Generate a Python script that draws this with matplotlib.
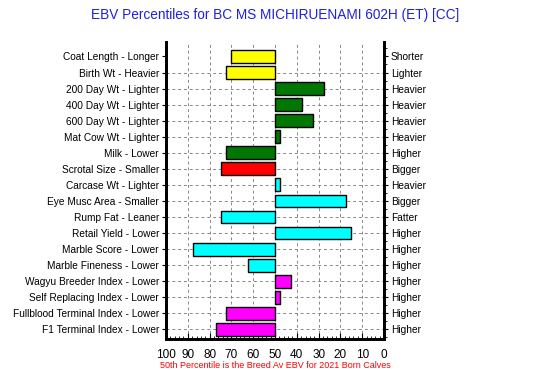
import matplotlib.pyplot as plt
from matplotlib.ticker import MultipleLocator

plt.rcParams['font.family'] = ['Liberation Sans', 'DejaVu Sans']

# traits, top to bottom
traits = ["Coat Length - Longer", "Birth Wt - Heavier", "200 Day Wt - Lighter",
          "400 Day Wt - Lighter", "600 Day Wt - Lighter", "Mat Cow Wt - Lighter",
          "Milk - Lower", "Scrotal Size - Smaller", "Carcase Wt - Lighter",
          "Eye Musc Area - Smaller", "Rump Fat - Leaner", "Retail Yield - Lower",
          "Marble Score - Lower", "Marble Fineness - Lower", "Wagyu Breeder Index - Lower",
          "Self Replacing Index - Lower", "Fullblood Terminal Index - Lower",
          "F1 Terminal Index - Lower"]
right_labels = ["Shorter", "Lighter", "Heavier", "Heavier", "Heavier", "Heavier",
                "Higher", "Bigger", "Heavier", "Bigger", "Fatter", "Higher",
                "Higher", "Higher", "Higher", "Higher", "Higher", "Higher"]
percentiles = [70, 72.5, 27.5, 37.5, 32.5, 47.5, 72.5, 75, 47.5, 17.5, 75, 15,
               87.5, 62.5, 42.5, 47.5, 72.5, 77]
colours = ["#ffff00", "#ffff00", "#007700", "#007700", "#007700", "#007700",
           "#007700", "#ff0000", "#00ffff", "#00ffff", "#00ffff", "#00ffff",
           "#00ffff", "#00ffff", "#ff00ff", "#ff00ff", "#ff00ff", "#ff00ff"]
breed_avg = 50

fig = plt.figure(figsize=(5.5, 3.7), dpi=100)
ax = fig.add_axes([166/550, 1 - 339/370, 218/550, 297/370])

n = len(traits)
rows = list(range(n))

# grid
for x in range(10, 100, 10):
    ax.axvline(x, color="#888888", ls=(0, (3, 3)), lw=0.7, zorder=0)
for r in rows[1:]:
    ax.axhline(r, color="#888888", ls=(0, (3, 3)), lw=0.7, zorder=0)

widths = [p - breed_avg for p in percentiles]
ax.barh(rows, widths, left=breed_avg, height=0.8, color=colours,
        edgecolor="black", lw=1, zorder=2)

ax.set_xlim(100, 0)
ax.set_ylim(n - 0.4, -0.9)
ax.set_yticks(rows)
ax.set_yticklabels(traits, fontsize=7.3)
ax.tick_params(axis="y", length=3, width=0.8, pad=2, colors="black")

ax2 = ax.twinx()
ax2.set_ylim(ax.get_ylim())
ax2.set_yticks(rows)
ax2.set_yticklabels(right_labels, fontsize=7.3)
ax2.tick_params(axis="y", length=3, width=0.8, pad=2)
ax2.yaxis.set_minor_locator(MultipleLocator(0.5))
ax2.tick_params(axis="y", which="minor", length=2, width=0.6)

ax.xaxis.set_major_locator(MultipleLocator(10))
ax.xaxis.set_minor_locator(MultipleLocator(2))
ax.tick_params(axis="x", which="major", direction="in", length=4, labelsize=8.5, pad=7)
ax.tick_params(axis="x", which="minor", direction="in", length=2)

for a in (ax, ax2):
    a.spines["top"].set_visible(False)
    a.spines["left"].set_linewidth(2)
    a.spines["right"].set_linewidth(2)
    a.spines["bottom"].set_linewidth(2)

fig.text(0.5, 1 - 15/370, "EBV Percentiles for BC MS MICHIRUENAMI 602H (ET) [CC]",
         ha="center", va="center", color="#2020e0", fontsize=9.8)
fig.text(0.5, 1 - 361/370, "50th Percentile is the Breed Av EBV for 2021 Born Calves",
         ha="center", va="top", color="red", fontsize=6.5)

fig.savefig("out.png", dpi=100)
